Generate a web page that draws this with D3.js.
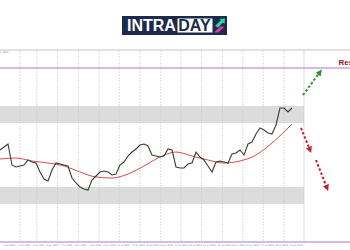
<!DOCTYPE html>
<html>
<head>
<meta charset="utf-8">
<script src="https://cdn.jsdelivr.net/npm/d3@7"></script>
<style>
  html, body { margin: 0; padding: 0; background: #fff; overflow: hidden; }
  svg { display: block; }
</style>
</head>
<body>
<div id="chart"></div>
<script>
//
// data
//
const closes = [
    1.1700, 1.1703, 1.1706, 1.1685, 1.1683, 1.1684, 1.1685, 1.1690, 1.1688, 1.1687,
    1.1678, 1.1671, 1.1669, 1.1680, 1.1687, 1.1686, 1.1685, 1.1684, 1.1672, 1.1667,
    1.1663, 1.1661, 1.1660, 1.1670, 1.1674, 1.1678, 1.1679, 1.1678, 1.1675, 1.1676,
    1.1685, 1.1688, 1.1694, 1.1698, 1.1701, 1.1705, 1.1706, 1.1704, 1.1695, 1.1694,
    1.1693, 1.1694, 1.1701, 1.1700, 1.1683, 1.1682, 1.1682, 1.1686, 1.1687, 1.1698,
    1.1693, 1.1690, 1.1684, 1.1678, 1.1688, 1.1689, 1.1688, 1.1687, 1.1696, 1.1697,
    1.1700, 1.1695, 1.1706, 1.1708, 1.1716, 1.1722, 1.1720, 1.1717, 1.1716, 1.1725,
    1.1742, 1.1742, 1.1738, 1.1742
];

const maIdx = [0, 4, 8, 12, 16, 20, 24, 28, 32, 36, 40, 44, 48, 52, 56, 60, 64, 68, 72, 73];
const maVal = [1.1691, 1.1692, 1.1689, 1.1687, 1.1684, 1.1678, 1.1673, 1.1672, 1.1676, 1.1684,
               1.1693, 1.1698, 1.1694, 1.1690, 1.1687, 1.1689, 1.1695, 1.1707, 1.1722, 1.1726];

// horizontal levels
const resistance = 1.1782;
const supportLine = 1.1608;
const upperZone = [1.1727, 1.1744];
const lowerZone = [1.1646, 1.1663];

// vertical grid (bar index) and date ticks
const gridIdx = [5, 9.2, 14.4, 19.6, 24.75, 29.8, 35, 40.2, 45.25, 50.4, 55.6, 60.7, 65.8, 71, 76];
const tickIdx = [2.25, 6, 9.5, 13, 16.5, 20, 23.75, 27.25, 30.75, 34.5, 38, 41.5, 45.25,
                 48.75, 52.25, 56, 59.5, 63, 66.75, 70.25, 74];
const tickLabels = ['1 Jul 2020', '2 Jul 2020', '3 Jul 2020', '6 Jul 2020', '7 Jul 2020',
    '8 Jul 2020', '9 Jul 2020', '10 Jul 2020', '13 Jul 2020', '14 Jul 2020', '15 Jul 2020',
    '16 Jul 2020', '17 Jul 2020', '20 Jul 2020', '21 Jul 2020', '22 Jul 2020', '23 Jul 2020',
    '24 Jul 2020', '27 Jul 2020', '28 Jul 2020', '29 Jul 2020'];

// forecast arrows: [index, price] start and end
const upArrow = [[75.75, 1.1755], [80, 1.1778]];
const downArrows = [
    [[75.25, 1.1722], [77.5, 1.1700]],
    [[79, 1.1690], [81.75, 1.1662]]
];

window.onload = function () {
    const width = 350, height = 250;

    const svg = d3.select('#chart').append('svg')
        .attr('width', width)
        .attr('height', height);

    const x = d3.scaleLinear().domain([0, 76]).range([0, 304]);
    const y = d3.scaleLinear().domain([supportLine, 1.1800]).range([242, 50]);

    drawLogo(svg);

    // arrow markers
    const defs = svg.append('defs');
    [['head-green', '#2f8f2f'], ['head-red', '#d01c2c']].forEach(function (m) {
        defs.append('marker')
            .attr('id', m[0])
            .attr('viewBox', '0 0 10 10')
            .attr('refX', 5).attr('refY', 5)
            .attr('markerWidth', 3.2).attr('markerHeight', 3.2)
            .attr('orient', 'auto')
            .append('path')
            .attr('d', 'M0,0 L10,5 L0,10 Z')
            .attr('fill', m[1]);
    });

    // zones
    svg.selectAll('rect.zone')
        .data([upperZone, lowerZone])
        .join('rect')
        .classed('zone', true)
        .attr('x', x(0))
        .attr('width', x(76) - x(0))
        .attr('y', d => y(d[1]))
        .attr('height', d => y(d[0]) - y(d[1]))
        .attr('fill', '#dcdcdc');

    // vertical grid
    svg.selectAll('line.grid')
        .data(gridIdx)
        .join('line')
        .classed('grid', true)
        .attr('x1', d => x(d)).attr('x2', d => x(d))
        .attr('y1', y(1.1800)).attr('y2', y(supportLine))
        .attr('stroke', '#c8c8c8')
        .attr('stroke-width', 0.6)
        .attr('stroke-dasharray', (d, i) => i === gridIdx.length - 1 ? null : '2,1');

    // top border
    svg.append('line')
        .attr('x1', 0).attr('x2', width)
        .attr('y1', y(1.1800)).attr('y2', y(1.1800))
        .attr('stroke', '#b4b4b4')
        .attr('stroke-width', 0.8);

    svg.append('text')
        .attr('x', 0).attr('y', y(1.1800) + 2.6)
        .attr('font-family', 'DejaVu Sans')
        .attr('font-size', 2.4)
        .attr('fill', '#888')
        .text('1.1800');

    // resistance and bottom lines
    svg.selectAll('line.level')
        .data([resistance, supportLine])
        .join('line')
        .classed('level', true)
        .attr('x1', 0).attr('x2', width)
        .attr('y1', d => y(d)).attr('y2', d => y(d))
        .attr('stroke', '#a47cc8')
        .attr('stroke-width', 1);

    svg.append('text')
        .attr('x', 338.5).attr('y', y(resistance) - 3)
        .attr('font-family', 'Liberation Sans')
        .attr('font-weight', 'bold')
        .attr('font-size', 8)
        .attr('fill', '#921a1a')
        .text('Resistance');

    // date axis
    const xAxis = d3.axisBottom(x)
        .tickValues(tickIdx)
        .tickFormat((d, i) => tickLabels[i])
        .tickSize(0)
        .tickPadding(0);

    const ax = svg.append('g')
        .attr('transform', `translate(0, ${y(supportLine) + 2.5})`)
        .call(xAxis);
    ax.select('.domain').remove();
    ax.selectAll('text')
        .attr('font-family', 'DejaVu Sans')
        .attr('font-size', 2.3)
        .attr('fill', '#8a8a8a');

    // moving average
    const maLine = d3.line()
        .x((d, i) => x(maIdx[i]))
        .y(d => y(d))
        .curve(d3.curveMonotoneX);
    svg.append('path')
        .datum(maVal)
        .attr('d', maLine)
        .attr('fill', 'none')
        .attr('stroke', '#d23a3a')
        .attr('stroke-width', 0.9);

    // price
    const priceLine = d3.line()
        .x((d, i) => x(i))
        .y(d => y(d));
    svg.append('path')
        .datum(closes)
        .attr('d', priceLine)
        .attr('fill', 'none')
        .attr('stroke', '#34402f')
        .attr('stroke-width', 1.1);

    // forecast arrows
    svg.append('line')
        .attr('x1', x(upArrow[0][0])).attr('y1', y(upArrow[0][1]))
        .attr('x2', x(upArrow[1][0])).attr('y2', y(upArrow[1][1]))
        .attr('stroke', '#2f8f2f')
        .attr('stroke-width', 2)
        .attr('stroke-dasharray', '2.5,2')
        .attr('marker-end', 'url(#head-green)');

    svg.selectAll('line.down')
        .data(downArrows)
        .join('line')
        .classed('down', true)
        .attr('x1', d => x(d[0][0])).attr('y1', d => y(d[0][1]))
        .attr('x2', d => x(d[1][0])).attr('y2', d => y(d[1][1]))
        .attr('stroke', '#d01c2c')
        .attr('stroke-width', 2)
        .attr('stroke-dasharray', '2.5,2')
        .attr('marker-end', 'url(#head-red)');
}

function drawLogo(svg) {
    const g = svg.append('g');

    g.append('rect')
        .attr('x', 122).attr('y', 16)
        .attr('width', 105).attr('height', 19)
        .attr('fill', '#1c2b4b');

    g.append('text')
        .attr('x', 127).attr('y', 31)
        .attr('font-family', 'Liberation Sans')
        .attr('font-weight', 'bold')
        .attr('font-size', 16)
        .attr('fill', '#fff')
        .text('INTRA');

    g.append('rect')
        .attr('x', 177.5).attr('y', 18.5)
        .attr('width', 35).attr('height', 14)
        .attr('fill', '#fff');

    g.append('text')
        .attr('x', 178.3).attr('y', 31)
        .attr('font-family', 'Liberation Sans')
        .attr('font-weight', 'bold')
        .attr('font-size', 16)
        .attr('fill', '#1c2b4b')
        .text('DAY');

    // icon
    g.append('path')
        .attr('d', 'M215,26 L221,20 L219,19 L225,18.5 L224.5,24 L223,22.5 L218,27.5 Z')
        .attr('fill', '#2fd3a0');
    g.append('path')
        .attr('d', 'M214,32.5 L220,26.5 L224.5,26.5 L218.5,32.5 Z')
        .attr('fill', '#e2379e');
}
</script>
</body>
</html>
